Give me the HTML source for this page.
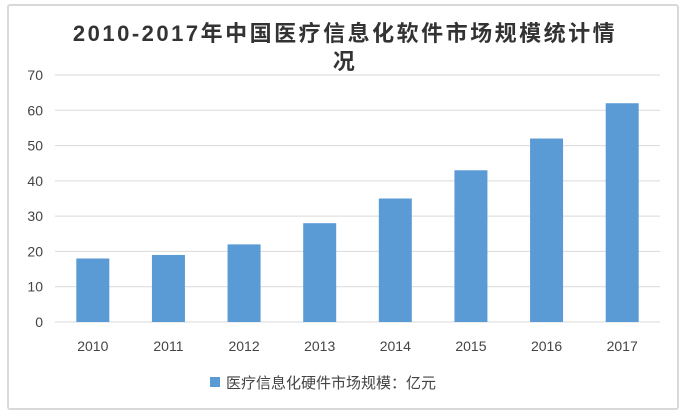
<!DOCTYPE html>
<html><head><meta charset="utf-8"><style>
body{margin:0;background:#fff;width:689px;height:419px;overflow:hidden;font-family:"Liberation Sans","Noto Sans CJK SC",sans-serif}
#frame{position:absolute;left:7px;top:4px;width:672px;height:406px;border:2px solid #d9d9d9;border-radius:3px;box-sizing:border-box}
#title{position:absolute;left:60px;top:20px;width:570px;text-align:center;font-size:22px;font-weight:bold;line-height:28px;color:#333;letter-spacing:2.5px;font-family:"Liberation Sans","Noto Sans CJK SC",sans-serif}
</style></head><body>
<div id="frame"></div>
<div id="title">2010-2017年中国医疗信息化软件市场规模统计情<br>况</div>
<svg id="chart" width="689" height="419" style="position:absolute;left:0;top:0"></svg>
<script>
const categories=["2010","2011","2012","2013","2014","2015","2016","2017"];
const values=[18,19,22,28,35,43,52,62];
const yTicks=[0,10,20,30,40,50,60,70];
const ns="http://www.w3.org/2000/svg";
const svg=document.getElementById('chart');
const x0=55,x1=660,y0=322,yTop=75,yMax=70;
const band=(x1-x0)/categories.length;
function y(v){return y0-(v/yMax)*(y0-yTop);}
function xc(i){return x0+band*(i+0.5);}
function mk(t,a){const e=document.createElementNS(ns,t);for(const k in a)e.setAttribute(k,a[k]);svg.appendChild(e);return e;}
yTicks.forEach(t=>{
  const l=mk('line',{x1:x0,x2:x1,y1:y(t),y2:y(t),stroke:'#d9d9d9','stroke-width':1});
  
  
  const tx=mk('text',{x:43,y:y(t)+5,'text-anchor':'end','font-size':14,fill:'#444','font-family':'Liberation Sans, sans-serif'});
  tx.textContent=t;
  
  
});
categories.forEach((c,i)=>{
  const w=33;
  const r=mk('rect',{x:xc(i)-w/2,y:y(values[i]),width:w,height:y0-y(values[i]),fill:'#5b9bd5'});
  
  
  const tx=mk('text',{x:xc(i),y:351,'text-anchor':'middle','font-size':14,fill:'#444','font-family':'Liberation Sans, sans-serif'});
  tx.textContent=c;
  
  
});
const lg=mk('rect',{x:210,y:377,width:10,height:10,fill:'#5b9bd5'});


const lt=mk('text',{x:226,y:388,'font-size':15,fill:'#444','font-family':'Liberation Sans, Noto Sans CJK SC, sans-serif'});
lt.textContent='医疗信息化硬件市场规模：亿元';


</script>
</body></html>
